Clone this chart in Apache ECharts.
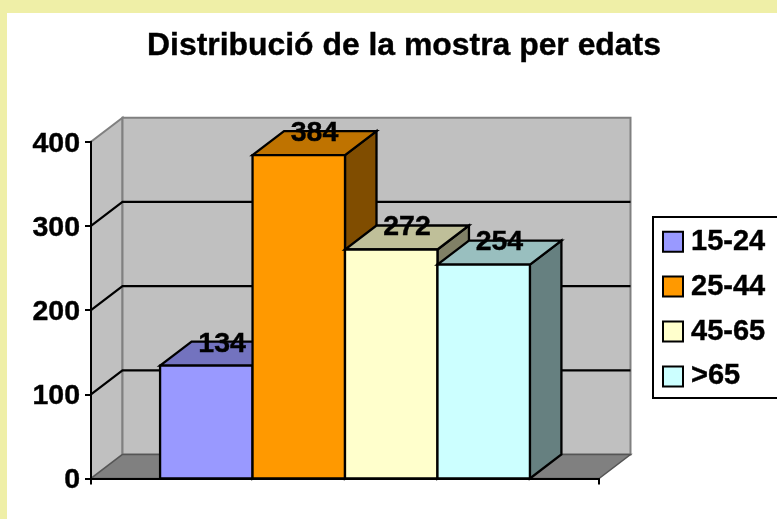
<!DOCTYPE html>
<html>
<head>
<meta charset="utf-8">
<style>html,body{margin:0;padding:0;background:#fff}#c{width:777px;height:519px}</style>
<script src="https://cdn.jsdelivr.net/npm/echarts@6/dist/echarts.min.js"></script>
</head>
<body>
<div id="c"></div>
<script>
const titleText = 'Distribució de la mostra per edats';
const ageGroups = ['15-24', '25-44', '45-65', '>65'];
const sampleCounts = [134, 384, 272, 254];
const yTicks = [0, 100, 200, 300, 400];
const barColors = ['#9999FF', '#FF9900', '#FFFFCC', '#CCFFFF'];

const FONT = '"Liberation Sans", Arial, sans-serif';
const DEPTH_X = 31.5, DEPTH_Y = 24, BAR_SHARE = 0.182;
const yMax = yTicks[yTicks.length - 1];
const heavy = { textBorderColor: '#000', textBorderWidth: 0.4 };

function shade(hex, f) {
  const n = parseInt(hex.slice(1), 16);
  const p = s => Math.round(((n >> s) & 255) * f);
  return 'rgb(' + p(16) + ',' + p(8) + ',' + p(0) + ')';
}

function renderWalls(params, api) {
  const v = api.value(1);
  const base = api.coord([0, 0]);
  const band = api.size([1, 0])[0];
  const xL = base[0] - band / 2, xR = base[0] + band / 2;
  const y0 = base[1];
  const yT = api.coord([0, yMax])[1];
  const edge = { stroke: '#808080', lineWidth: 2, lineJoin: 'miter' };
  if (v === 0) {
    return { type: 'group', children: [
      { type: 'polygon', shape: { points: [[xL, y0], [xL + DEPTH_X, y0 - DEPTH_Y], [xL + DEPTH_X, yT - DEPTH_Y], [xL, yT]] },
        style: Object.assign({ fill: '#C0C0C0' }, edge) },
      { type: 'polygon', shape: { points: [[xL + DEPTH_X, y0 - DEPTH_Y], [xR + DEPTH_X, y0 - DEPTH_Y], [xR + DEPTH_X, yT - DEPTH_Y], [xL + DEPTH_X, yT - DEPTH_Y]] },
        style: Object.assign({ fill: '#C0C0C0' }, edge) },
      { type: 'polygon', shape: { points: [[xL, y0], [xR, y0], [xR + DEPTH_X, y0 - DEPTH_Y], [xL + DEPTH_X, y0 - DEPTH_Y]] },
        style: { fill: '#808080', stroke: '#555555', lineWidth: 1.5 } }
    ] };
  }
  if (v === yMax) return null;
  const y = api.coord([0, v])[1];
  return { type: 'polyline', shape: { points: [[xL, y], [xL + DEPTH_X, y - DEPTH_Y], [xR + DEPTH_X, y - DEPTH_Y]] },
    style: { fill: null, stroke: '#000', lineWidth: 2.2 } };
}

function makeBarRenderer(i) {
  return function (params, api) {
    const value = api.value(1);
    const base = api.coord([0, 0]);
    const top = api.coord([0, value]);
    const w = api.size([1, 0])[0] * BAR_SHARE;
    const l = base[0] - 2 * w + i * w, r = l + w;
    const yb = base[1], yt = top[1];
    const col = barColors[i];
    const line = { stroke: '#000', lineWidth: 2.3, lineJoin: 'miter' };
    return { type: 'group', children: [
      { type: 'polygon', shape: { points: [[r, yb], [r + DEPTH_X, yb - DEPTH_Y], [r + DEPTH_X, yt - DEPTH_Y], [r, yt]] },
        style: Object.assign({ fill: shade(col, 0.5) }, line) },
      { type: 'polygon', shape: { points: [[l, yt], [r, yt], [r + DEPTH_X, yt - DEPTH_Y], [l + DEPTH_X, yt - DEPTH_Y]] },
        style: Object.assign({ fill: shade(col, 0.75) }, line) },
      { type: 'polygon', shape: { points: [[l, yb], [r, yb], [r, yt], [l, yt]] },
        style: Object.assign({ fill: col }, line) },
      { type: 'text', z2: 100,
        style: { text: String(value), x: (l + r + DEPTH_X) / 2, y: yt - DEPTH_Y + 2, align: 'center', verticalAlign: 'middle',
          fill: '#000', stroke: '#000', lineWidth: 0.4, font: 'bold 28.5px ' + FONT } }
    ] };
  };
}

const chart = echarts.init(document.getElementById('c'), null, { renderer: 'canvas' });
chart.setOption({
  animation: false,
  backgroundColor: '#fff',
  graphic: [
    { type: 'rect', shape: { x: 0, y: 0, width: 777, height: 13 }, style: { fill: '#EFEFA7' }, silent: true },
    { type: 'rect', shape: { x: 0, y: 0, width: 7, height: 519 }, style: { fill: '#EFEFA7' }, silent: true }
  ],
  title: { text: titleText, left: 147, top: 30, padding: 0,
    textStyle: Object.assign({ fontFamily: FONT, fontWeight: 'bold', fontSize: 31.9, color: '#000' }, heavy) },
  grid: { left: 91, right: 178, top: 141.7, bottom: 40.5 },
  legend: {
    orient: 'vertical', left: 653, top: 217, data: ageGroups, icon: 'rect',
    itemWidth: 20, itemHeight: 20, itemGap: 15.5, padding: [10, 40, 7, 9],
    backgroundColor: '#fff', borderColor: '#000', borderWidth: 2, borderRadius: 0,
    itemStyle: { borderColor: '#000', borderWidth: 2 },
    textStyle: Object.assign({ fontFamily: FONT, fontWeight: 'bold', fontSize: 29, color: '#000', padding: [0, 0, 0, 3] }, heavy)
  },
  xAxis: { type: 'category', data: [''], z: 5,
    axisLine: { lineStyle: { color: '#000', width: 2 } },
    axisTick: { show: true, length: 6, lineStyle: { color: '#000', width: 2 } },
    axisLabel: { show: false }, splitLine: { show: false } },
  yAxis: { type: 'value', min: 0, max: yMax, interval: 100, z: 5,
    axisLine: { show: true, lineStyle: { color: '#000', width: 2 } },
    axisTick: { show: true, length: 6, lineStyle: { color: '#000', width: 2 } },
    axisLabel: { margin: 11, formatter: '{a|{value}}',
      rich: { a: Object.assign({ fontFamily: FONT, fontWeight: 'bold', fontSize: 28.5, color: '#000', padding: [4, 0, 0, 0] }, heavy) } },
    splitLine: { show: false } },
  series: [
    { type: 'custom', name: 'walls', z: 1, silent: true, clip: false, renderItem: renderWalls,
      encode: { x: 0, y: 1 }, data: yTicks.map(t => [0, t]) }
  ].concat(ageGroups.map((g, i) => ({
    type: 'custom', name: g, z: 2, clip: false, renderItem: makeBarRenderer(i),
    itemStyle: { color: barColors[i] },
    encode: { x: 0, y: 1 }, data: [[0, sampleCounts[i]]]
  })))
});
</script>
</body>
</html>
